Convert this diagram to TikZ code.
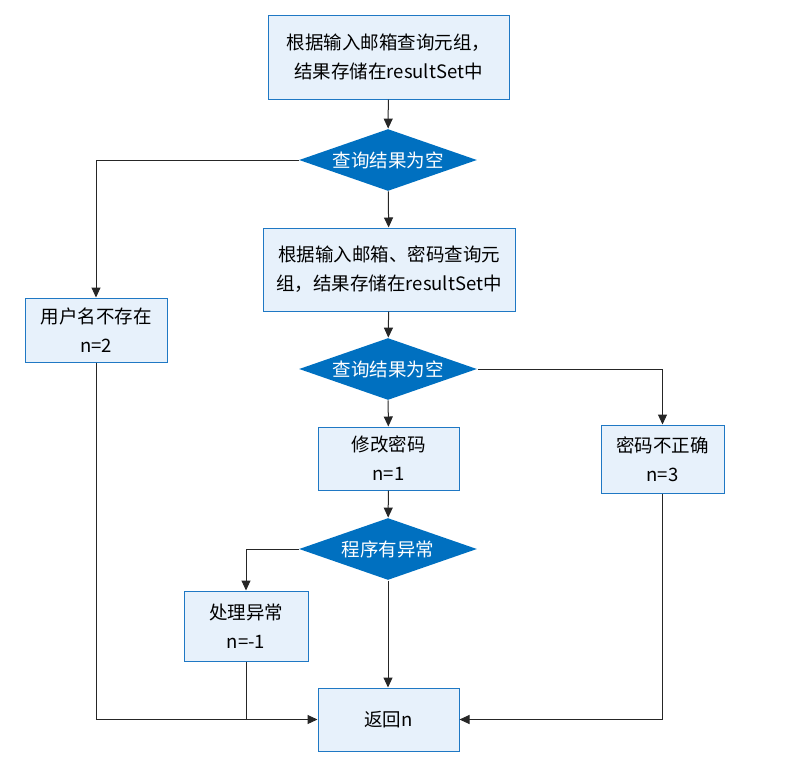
\documentclass[tikz,border=0pt]{standalone}
\usepackage{fontspec}
\setmainfont{Noto Sans CJK SC}
\usetikzlibrary{shapes.geometric,arrows.meta}
\definecolor{boxfill}{HTML}{E7F1FB}
\definecolor{boxline}{HTML}{1F78C4}
\definecolor{decfill}{HTML}{0070C0}
\begin{document}
\begin{tikzpicture}[x=1pt,y=-1pt,font=\fontsize{18.5}{29}\selectfont,
    -{Triangle[length=10pt,width=9pt]},draw=black!85,line width=1pt]
    \tikzstyle{box}=[rectangle,draw=boxline,fill=boxfill,align=center,inner sep=0pt]
    \tikzstyle{decision}=[diamond,fill=decfill,text=white,inner sep=0pt,aspect=2.87,
        minimum width=178pt,minimum height=62pt]
    \useasboundingbox (0,0) rectangle (789,763);

    % steps
    \node[box,minimum width=241pt,minimum height=84pt] (Q-1) at (388.5,57)
        {根据输入邮箱查询元组，\\结果存储在resultSet中};
    \node[box,minimum width=252pt,minimum height=83pt] (Q-2) at (389,269.5)
        {根据输入邮箱、密码查询元\\组，结果存储在resultSet中};
    \node[box,minimum width=142pt,minimum height=64pt] (noUser) at (96,330)
        {用户名不存在\\n=2};
    \node[box,minimum width=141pt,minimum height=63pt] (modify) at (388.5,458.5)
        {修改密码\\n=1};
    \node[box,minimum width=123pt,minimum height=68pt] (wrongPwd) at (662.5,459)
        {密码不正确\\n=3};
    \node[box,minimum width=124pt,minimum height=70pt] (handle) at (246,626)
        {处理异常\\n=-1};
    \node[box,minimum width=141pt,minimum height=63pt] (ret) at (388.5,719.5)
        {返回n};

    % decisions
    \foreach \y/\n in {160/1,369/2}
    \node[decision] (D-\n) at (388,\y) {查询结果为空};
    \node[decision] (D-3) at (388,549) {程序有异常};

    % straight down the middle
    \draw (Q-1) -- (D-1);
    \draw (D-1) -- (Q-2);
    \draw (Q-2) -- (D-2);
    \draw (D-2) -- (modify);
    \draw (modify) -- (D-3);
    \draw (D-3.south) -- (D-3.south |- ret.north);

    % branches
    \draw (D-1.west) -| (noUser);
    \draw (D-2.east) -| (wrongPwd);
    \draw (D-3.west) -| (handle);

    % back to the return node
    \draw (noUser) |- (ret);
    \draw (wrongPwd) |- (ret);
    \draw[-] (handle) -- (handle |- ret);
  \end{tikzpicture}
\end{document}
